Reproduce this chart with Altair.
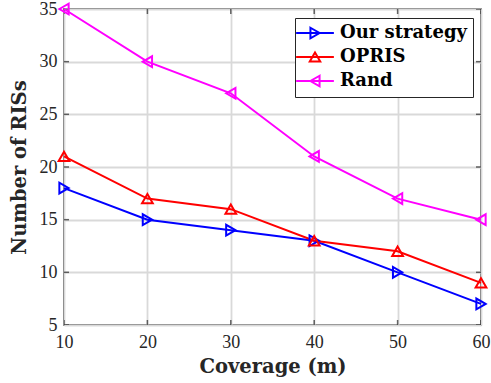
import altair as alt
import pandas as pd

# Coverage radius (m) and number of RISs needed by each strategy
coverage = [10, 20, 30, 40, 50, 60]
ours = [18, 15, 14, 13, 10, 7]
opris = [21, 17, 16, 13, 12, 9]
rand = [35, 30, 27, 21, 17, 15]

series_names = ["Our strategy", "OPRIS", "Rand"]
series_colors = ["#0000ff", "#ff0000", "#ff00ff"]
marker_shapes = ["triangle-right", "triangle-up", "triangle-left"]

x_ticks = [10, 20, 30, 40, 50, 60]
y_ticks = [5, 10, 15, 20, 25, 30, 35]

# Legend glyphs: a short line with the series marker on top
legend_glyphs = [
    "M-3.6,0H3.6M-0.87,-1L0.87,0L-0.87,1Z",
    "M-3.6,0H3.6M-1,0.87L0,-0.87L1,0.87Z",
    "M-3.6,0H3.6M0.87,-1L-0.87,0L0.87,1Z",
]

rows = []
for name, vals in zip(series_names, [ours, opris, rand]):
    for c, v in zip(coverage, vals):
        rows.append({"coverage": c, "count": v, "series": name})
df = pd.DataFrame(rows)

INK = "#262626"

x_scale = alt.Scale(domain=[10, 60], nice=False, zero=False)
y_scale = alt.Scale(domain=[5, 35], nice=False, zero=False)

x_enc = alt.X(
    "coverage:Q",
    scale=x_scale,
    axis=alt.Axis(
        values=x_ticks, title="Coverage (m)", grid=True, ticks=False, domain=False,
        labelFlush=False, labelOverlap=False, labelPadding=8, titlePadding=6,
    ),
)
y_enc = alt.Y(
    "count:Q",
    scale=y_scale,
    axis=alt.Axis(
        values=y_ticks, title="Number of RISs", grid=True, ticks=False, domain=False,
        labelFlush=False, labelOverlap=False, labelPadding=7, titlePadding=10,
    ),
)
color_enc = alt.Color("series:N", scale=alt.Scale(domain=series_names, range=series_colors),
                      legend=alt.Legend(title=None))

base = alt.Chart(df)

lines = base.mark_line(strokeWidth=2).encode(x=x_enc, y=y_enc, color=color_enc)

marker_layers = []
for name, shape in zip(series_names, marker_shapes):
    marker_layers.append(
        base.transform_filter(alt.datum.series == name)
        .mark_point(shape=shape, filled=False, size=115, strokeWidth=2, opacity=1)
        .encode(x=x_enc, y=y_enc, color=color_enc)
    )

legend_layer = base.mark_point(filled=False, opacity=0, strokeWidth=2).encode(
    x=x_enc, y=y_enc, color=color_enc,
    shape=alt.Shape("series:N",
                    scale=alt.Scale(domain=series_names, range=legend_glyphs),
                    legend=alt.Legend(title=None)),
)

# Inward tick marks on all four sides of the box
xt = pd.DataFrame({"coverage": x_ticks})
yt = pd.DataFrame({"count": y_ticks})
tick_style = dict(size=10, thickness=1.5, color=INK, clip=True)
ticks_bottom = alt.Chart(xt).mark_tick(orient="vertical", **tick_style).encode(
    x=alt.X("coverage:Q", scale=x_scale), y=alt.Y(datum=5, scale=y_scale))
ticks_top = alt.Chart(xt).mark_tick(orient="vertical", **tick_style).encode(
    x=alt.X("coverage:Q", scale=x_scale), y=alt.Y(datum=35, scale=y_scale))
ticks_left = alt.Chart(yt).mark_tick(orient="horizontal", **tick_style).encode(
    y=alt.Y("count:Q", scale=y_scale), x=alt.X(datum=10, scale=x_scale))
ticks_right = alt.Chart(yt).mark_tick(orient="horizontal", **tick_style).encode(
    y=alt.Y("count:Q", scale=y_scale), x=alt.X(datum=60, scale=x_scale))

chart = (
    alt.layer(ticks_bottom, ticks_top, ticks_left, ticks_right,
              lines, *marker_layers, legend_layer)
    .properties(
        width=417, height=316,
        padding={"left": 64, "top": 9, "right": 10, "bottom": 58},
        autosize=alt.AutoSizeParams(type="none"),
    )
    .configure_view(stroke=INK, strokeWidth=1.5)
    .configure_axis(
        gridColor="#d9d9d9", gridWidth=1.8,
        labelFont="Liberation Serif", labelFontSize=18, labelColor=INK,
        titleFont="DejaVu Serif", titleFontWeight="bold", titleFontSize=19.5, titleColor=INK,
    )
    .configure_legend(
        orient="none", legendX=231, legendY=9,
        padding=6, symbolOffset=5, labelOffset=16, rowPadding=5,
        symbolSize=110, symbolStrokeWidth=2, symbolOpacity=1,
        labelFont="DejaVu Serif", labelFontWeight="bold", labelFontSize=18,
        labelColor="#000000", strokeColor=INK, fillColor="white", cornerRadius=0,
        labelLimit=300,
    )
)

chart.save("out.html", embed_options={"renderer": "svg", "actions": False})
